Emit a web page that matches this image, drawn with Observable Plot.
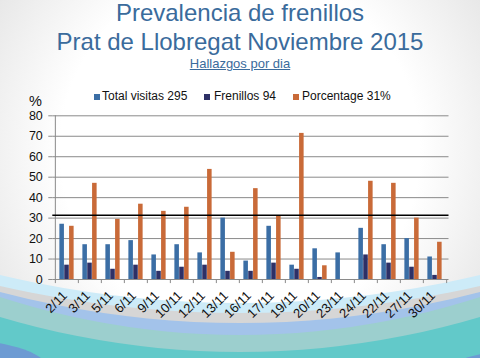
<!DOCTYPE html>
<html>
<head>
<meta charset="utf-8">
<script src="https://cdn.jsdelivr.net/npm/d3@7"></script>
<script src="https://cdn.jsdelivr.net/npm/@observablehq/plot@0.6"></script>
<style>
  html, body { margin: 0; padding: 0; background: #fff; }
  #wrap { position: relative; width: 480px; height: 358px; overflow: hidden; font-family: "Liberation Sans", Arial, sans-serif; }
  #bg { position: absolute; left: 0; top: 0; }
  #chart { position: absolute; left: 0; top: 0; }
  .t { position: absolute; left: 0; width: 480px; text-align: center; white-space: nowrap; }
  #title { top: -1.8px; font-size: 24px; line-height: 29px; color: #3a6b9c; }
  #subtitle { top: 57px; font-size: 13px; line-height: 13px; color: #3a6b9c; text-decoration: underline; }
  .lg { position: absolute; font-size: 12px; line-height: 12px; color: #111; white-space: nowrap; }
  .sq { position: absolute; width: 6px; height: 6px; }
  #pct { position: absolute; left: 29px; top: 94px; font-size: 14.5px; line-height: 14.5px; color: #111; }
</style>
</head>
<body>
<div id="wrap">
  <svg id="bg" width="480" height="358"></svg>
  <div id="chart"></div>
  <div class="t" id="title">Prevalencia de frenillos<br>Prat de Llobregat Noviembre 2015</div>
  <div class="t" id="subtitle">Hallazgos por dia</div>
  <div id="legend"></div>
  <div id="pct">%</div>
</div>
<script>
// ---- data ----
const categories = ["2/11","3/11","5/11","6/11","9/11","10/11","12/11","13/11","16/11","17/11","19/11","20/11","23/11","24/11","22/11","27/11","30/11"];
const totalVisitas = [27,17,17,19,12,17,13,30,9,26,7,15,13,25,17,20,11];
const frenillos    = [7,8,5,7,4,6,7,4,4,8,5,1,0,12,8,6,2];
const porcentage   = [26,47,29.4,36.8,33.3,35.3,53.8,13.3,44.4,30.8,71.4,6.7,0,48,47,30,18.2];
const mediaPorcentage = 31.4;
const seriesNames  = ["Total visitas 295","Frenillos 94","Porcentage 31%"];
const seriesColors = ["#3b6ea5","#2e3066","#c96a38"];
const yTicks = [0,10,20,30,40,50,60,70,80];

// ---- background decoration (waves) ----
const bg = d3.select("#bg");
const grad = bg.append("defs").append("radialGradient").attr("id","g")
  .attr("gradientUnits","userSpaceOnUse").attr("cx",240).attr("cy",150).attr("r",300);
grad.append("stop").attr("offset","60%").attr("stop-color","#ffffff");
grad.append("stop").attr("offset","100%").attr("stop-color","#e4e4e4");
bg.append("rect").attr("width",480).attr("height",358).attr("fill","#62c9c9");
bg.append("ellipse").attr("cx",-40).attr("cy",372).attr("rx",90).attr("ry",32).attr("fill","#6d9bd3");
bg.append("ellipse").attr("cx",505).attr("cy",372).attr("rx",55).attr("ry",20).attr("fill","#6d9bd3");
const waves = [
  {cy:-488, r:840, fill:"#9ccfce"},
  {cy:-442, r:777, fill:"#a3c3ea"},
  {cy:-621.5, r:944.5, fill:"#d6d6d6"},
  {cy:-767, r:1080, fill:"#cdebf8"},
  {cy:-739.6, r:1042.6, fill:"url(#g)"}
];
for (const w of waves) bg.append("circle").attr("cx",240).attr("cy",w.cy).attr("r",w.r).attr("fill",w.fill);

// ---- legend ----
const legendPos = [{sq:94, tx:102},{sq:204, tx:214},{sq:293, tx:302}];
const lg = document.getElementById("legend");
seriesNames.forEach((name,i) => {
  const s = document.createElement("div");
  s.className = "sq"; s.style.left = legendPos[i].sq + "px"; s.style.top = "94px"; s.style.background = seriesColors[i];
  lg.appendChild(s);
  const t = document.createElement("div");
  t.className = "lg"; t.style.left = legendPos[i].tx + "px"; t.style.top = "90px"; t.textContent = name;
  lg.appendChild(t);
});

// ---- chart ----
const table = categories.map((c,i) => ({cat:c, total: totalVisitas[i], fren: frenillos[i], pct: porcentage[i]}));
const W = 480, H = 358, mL = 52.3, mR = 31.5, mT = 115.3, mB = 79;
const bw = (W - mL - mR) / categories.length;
const barW = 4.85;
const inset = i => ({insetLeft: bw/2 - 1.5*barW + i*barW, insetRight: bw/2 - 1.5*barW + (2-i)*barW});
const gridColor = "#8a8a8a";

const chart = Plot.plot({
  width: W, height: H,
  marginLeft: mL, marginRight: mR, marginTop: mT, marginBottom: mB,
  style: {background: "transparent", fontFamily: "Liberation Sans, Arial, sans-serif", color: "#111", overflow: "visible"},
  x: {type: "band", domain: categories, padding: 0},
  y: {domain: [0, 80]},
  marks: [
    Plot.ruleY(yTicks.slice(1), {stroke: gridColor, strokeWidth: 1}),
    Plot.axisY({ticks: yTicks, tickSize: 4, tickPadding: 6, fontSize: 12.5, label: null, stroke: gridColor, fill: "#111"}),
    Plot.barY(table, {x: "cat", y: "total", fill: seriesColors[0], ...inset(0)}),
    Plot.barY(table, {x: "cat", y: "fren", fill: seriesColors[1], ...inset(1)}),
    Plot.barY(table, {x: "cat", y: "pct", fill: seriesColors[2], ...inset(2)}),
    Plot.ruleY([0], {stroke: gridColor, strokeWidth: 1}),
    Plot.ruleX([categories[0]], {x: d => d, dx: -bw/2, y1: 0, y2: 80, stroke: gridColor}),
    Plot.ruleX(categories, {x: d => d, dx: -bw/2, y1: 0, y2: -2, stroke: gridColor}),
    Plot.ruleX([categories[categories.length-1]], {x: d => d, dx: bw/2, y1: 0, y2: -2, stroke: gridColor}),
    Plot.ruleY([mediaPorcentage], {stroke: "#000", strokeWidth: 1.3}),
    Plot.axisX({tickRotate: -45, tickSize: 0, tickPadding: 14, dx: -2, fontSize: 13, label: null, fill: "#111"})
  ]
});
document.getElementById("chart").appendChild(chart);
</script>
</body>
</html>
